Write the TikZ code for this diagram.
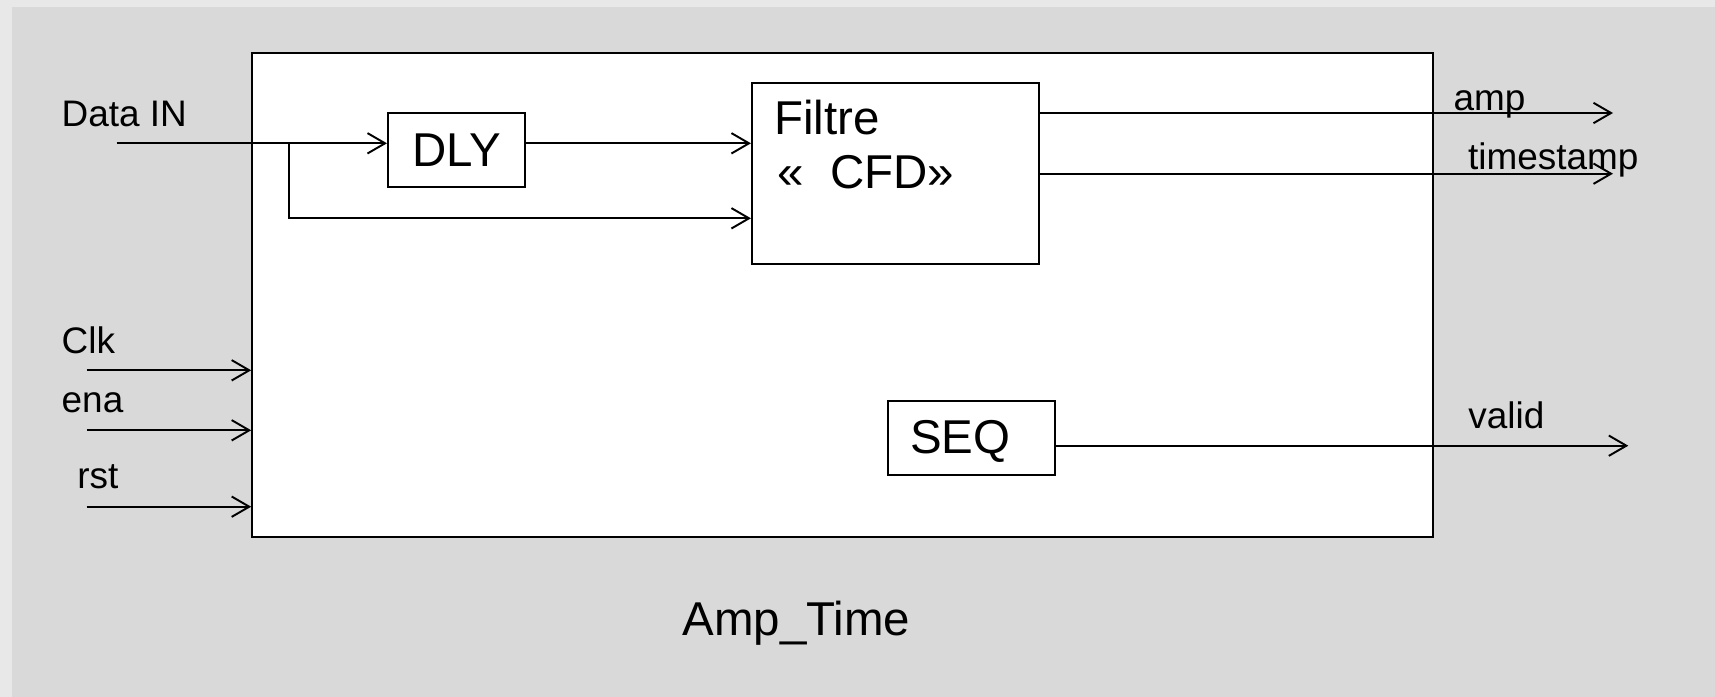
\documentclass[tikz,border=0pt]{standalone}
\usepackage{fontspec}
\setmainfont{Liberation Sans}
\usetikzlibrary{arrows.meta}
\definecolor{outerbg}{HTML}{E8E8E8}
\definecolor{innerbg}{HTML}{D9D9D9}
\tikzset{
  blk/.style={draw=black, fill=white, line width=0.55pt, rectangle, inner sep=0pt},
  wire/.style={draw=black, line width=0.55pt},
  arr/.style={wire, -{Straight Barb[length=5pt, width=5.8pt, line width=0.55pt]}},
  small/.style={inner sep=0pt, anchor=base west, font=\fontsize{10.5}{12}\selectfont},
  big/.style={inner sep=0pt, anchor=base west, font=\fontsize{13.5}{16}\selectfont},
}
\begin{document}
\begin{tikzpicture}[x=0.01cm, y=-0.01cm]
\useasboundingbox (0,0) rectangle (1715,697);
\fill[outerbg] (0,0) rectangle (1715,697);
\fill[innerbg] (11.5,6.7) rectangle (1715,697);

% blocks
\node[blk, minimum width=11.805cm, minimum height=4.838cm] (main) at (842.75,294.6) {};
\node[blk, minimum width=1.37cm, minimum height=0.74cm, font=\fontsize{13.5}{16}\selectfont] (dly) at (456.5,150) {DLY};
\node[blk, minimum width=2.873cm, minimum height=1.81cm] (filtre) at (895.65,173.8) {};
\node[blk, minimum width=1.673cm, minimum height=0.74cm] (seq) at (971.35,437.7) {};

% texts in blocks
\node[big] (tfiltre) at (773.3,134) {Filtre};
\node[big] (tcfd) at (776.7,188.3) {«~~CFD»};
\node[big] (tseq) at (909.3,453.3) {SEQ};
\node[big] (ttitle) at (681.7,635) {Amp\_Time};

% port labels
\node[small] (ldata) at (61,126) {Data IN};
\node[small] (lclk) at (61,353) {Clk};
\node[small] (lena) at (61,412.7) {ena};
\node[small] (lrst) at (76.7,488.3) {rst};
\node[small] (lamp) at (1452.8,110.7) {amp};
\node[small] (lts) at (1467.4,169.3) {timestamp};
\node[small] (lvalid) at (1467.7,428.3) {valid};

% free ends
\coordinate (din) at (116.7,143.3);
\coordinate (stub) at (298.5,143.3);
\coordinate (br) at (289,143.3);
\coordinate (fin2) at (752,218.3);
\coordinate (ampend) at (1613,113);
\coordinate (tsend) at (1613,173.7);
\coordinate (validend) at (1628.3,445.7);
\coordinate (clkst) at (86.7,370.3);
\coordinate (enast) at (86.7,430.3);
\coordinate (rstst) at (86.7,506.7);

% connectors
\draw[arr] (din) -- (din -| dly.west);
\draw[wire] (stub) -- (br);
\draw[arr] (br) |- (fin2 -| filtre.west);
\draw[arr] (dly.east |- din) -- (filtre.west |- din);
\draw[arr] (filtre.east |- ampend) -- (ampend);
\draw[arr] (filtre.east |- tsend) -- (tsend);
\draw[arr] (seq.east |- validend) -- (validend);
\draw[arr] (clkst) -- (clkst -| main.west);
\draw[arr] (enast) -- (enast -| main.west);
\draw[arr] (rstst) -- (rstst -| main.west);
\end{tikzpicture}
\end{document}
